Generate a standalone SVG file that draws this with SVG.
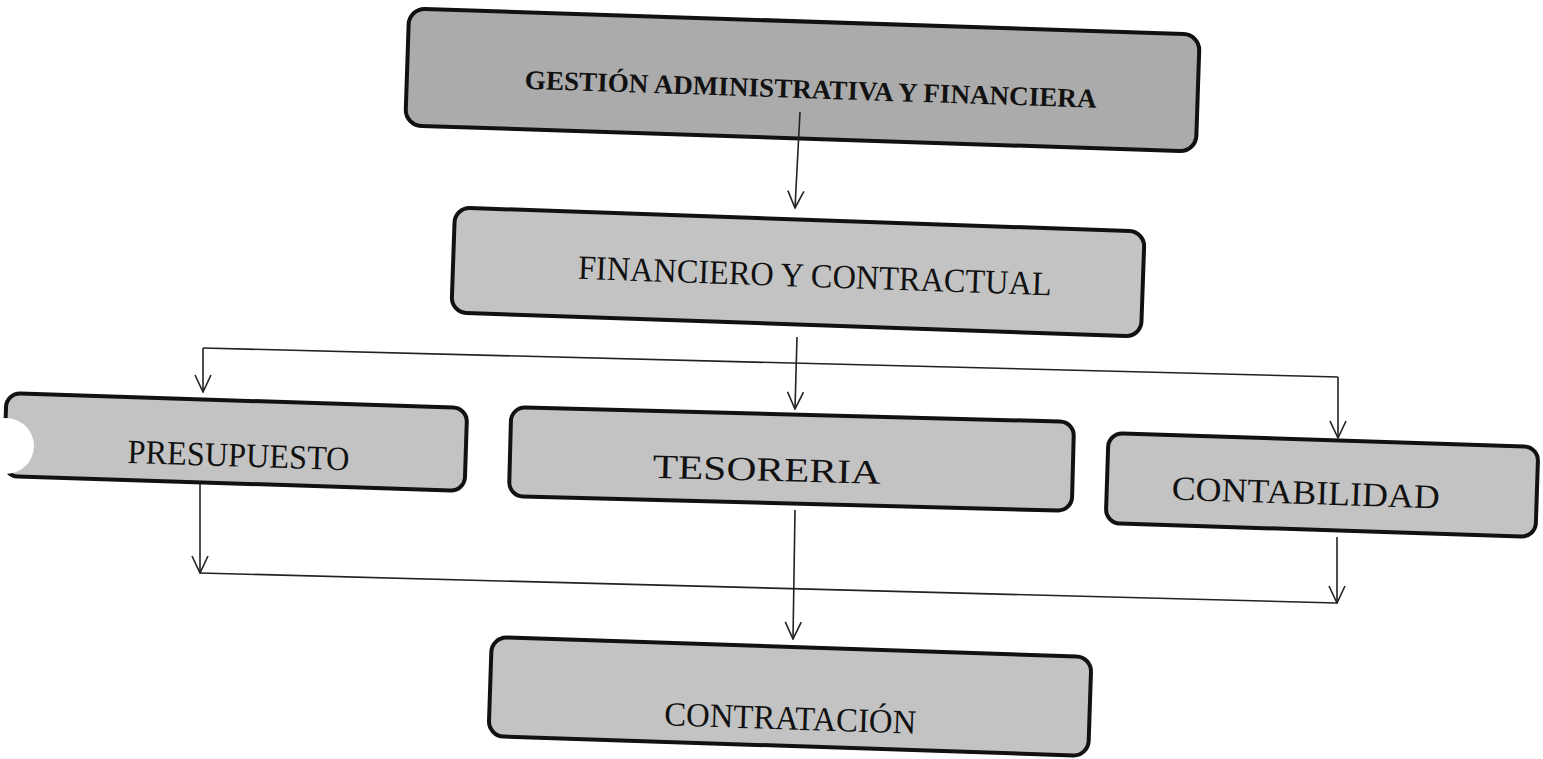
<svg xmlns="http://www.w3.org/2000/svg" width="1543" height="759" viewBox="0 0 1543 759">
<style>
.box{fill:#c3c3c3;stroke:#111;stroke-width:4}
.dark{fill:#ababab}
.lbl{font-family:"Liberation Serif","Times New Roman",serif;font-size:34px;fill:#111;text-anchor:middle;dominant-baseline:central}
.bold{font-weight:bold;font-size:27px}
.con{fill:none;stroke:#222;stroke-width:1.6}
</style>
<defs>
<marker id="arr" viewBox="-18 -9 19 18" markerWidth="19" markerHeight="18" refX="0" refY="0" orient="auto" markerUnits="userSpaceOnUse">
<path d="M-17,-8 L0,0 L-17,8" fill="none" stroke="#222" stroke-width="1.6"/>
</marker>
</defs>
<rect width="1543" height="759" fill="#ffffff"/>
<g id="n-gestion" transform="rotate(1.9 802.5 80)">
<rect class="box dark" x="407" y="21.5" width="791" height="117" rx="16"/>
<text class="lbl bold" x="811" y="89" textLength="572" lengthAdjust="spacingAndGlyphs">GESTIÓN ADMINISTRATIVA Y FINANCIERA</text>
</g>
<g id="n-financiero" transform="rotate(2.0 798 272)">
<rect class="box" x="453" y="219.5" width="690" height="105" rx="15"/>
<text class="lbl" x="815" y="275" textLength="474" lengthAdjust="spacingAndGlyphs">FINANCIERO Y CONTRACTUAL</text>
</g>
<g id="n-presupuesto" transform="rotate(1.86 235.5 442)">
<rect class="box" x="5" y="400.5" width="461" height="83" rx="14"/>
<text class="lbl" x="239" y="455" textLength="222" lengthAdjust="spacingAndGlyphs">PRESUPUESTO</text>
</g>
<circle cx="6" cy="446" r="28" fill="#ffffff"/>
<g id="n-tesoreria" transform="rotate(1.5 791.5 459)">
<rect class="box" x="510" y="414.5" width="563" height="89" rx="14"/>
<text class="lbl" x="767" y="470" textLength="228" lengthAdjust="spacingAndGlyphs">TESORERIA</text>
</g>
<g id="n-contabilidad" transform="rotate(1.86 1322 485)">
<rect class="box" x="1107" y="440" width="430" height="90" rx="14"/>
<text class="lbl" x="1306" y="493" textLength="268" lengthAdjust="spacingAndGlyphs">CONTABILIDAD</text>
</g>
<g id="n-contratacion" transform="rotate(1.9 790 696.5)">
<rect class="box" x="490" y="647" width="600" height="99" rx="15"/>
<text class="lbl" x="791" y="718" textLength="252" lengthAdjust="spacingAndGlyphs">CONTRATACIÓN</text>
</g>
<g id="connectors">
<path class="con" d="M800,112 L795,208" marker-end="url(#arr)"/>
<path class="con" d="M797,337 L795,409" marker-end="url(#arr)"/>
<path class="con" d="M203,348 L1338,377"/>
<path class="con" d="M203,348 L203,392" marker-end="url(#arr)"/>
<path class="con" d="M1338,377 L1338,438" marker-end="url(#arr)"/>
<path class="con" d="M200,484 L200,573" marker-end="url(#arr)"/>
<path class="con" d="M200,573 L1337,603"/>
<path class="con" d="M1337,537 L1337,603" marker-end="url(#arr)"/>
<path class="con" d="M795,510 L793,639" marker-end="url(#arr)"/>
</g>
</svg>
